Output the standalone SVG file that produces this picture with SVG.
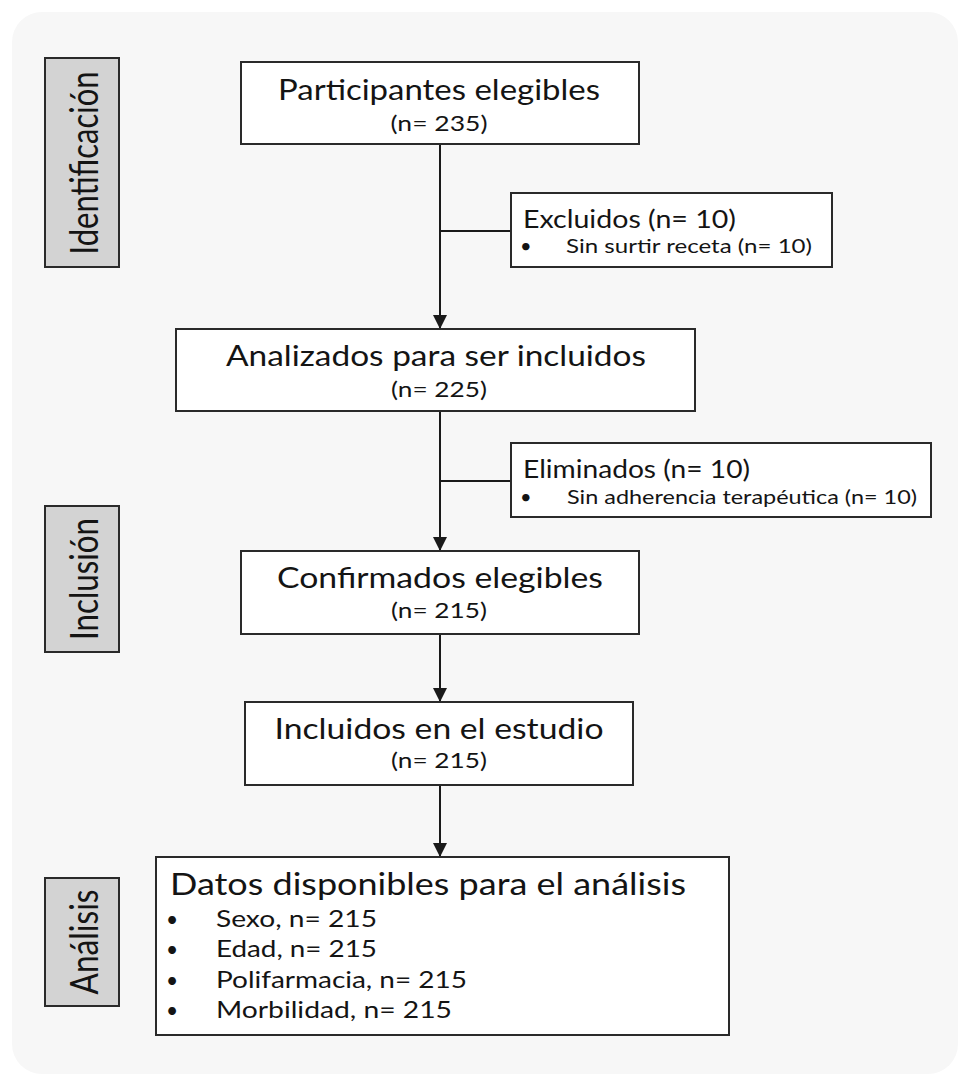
<svg xmlns="http://www.w3.org/2000/svg" width="962" height="1080" viewBox="0 0 962 1080">
<defs>
<marker id="arr" markerUnits="userSpaceOnUse" markerWidth="14" markerHeight="14" viewBox="0 0 14 14" refX="14" refY="7" orient="auto">
<path d="M0,0 L14,7 L0,14 Z" fill="#1a1a1a"/>
</marker>
<style>
.box{fill:#ffffff;stroke:#2a2a2a;stroke-width:2}
.side{fill:#d3d3d3;stroke:#2a2a2a;stroke-width:2}
.t{font-family:Lato,"Liberation Sans",sans-serif;fill:#141414}
.title{font-size:28px}
.n{font-size:21px}
.hd{font-size:25px}
.bl{font-size:20px}
.side-t{font-size:38px}
.conn{stroke:#1a1a1a;stroke-width:2;fill:none}
</style>
</defs>
<rect x="0" y="0" width="962" height="1080" fill="#ffffff"/>
<rect x="12" y="12" width="946" height="1062" rx="30" fill="#f7f7f7"/>

<g id="label-identificacion">
<rect class="side" x="45" y="58" width="74" height="209"/>
<text class="t side-t" transform="translate(98,163) rotate(-90)" text-anchor="middle" textLength="183" lengthAdjust="spacingAndGlyphs">Identificación</text>
</g>
<g id="label-inclusion">
<rect class="side" x="45" y="506" width="74" height="146"/>
<text class="t side-t" transform="translate(98,579) rotate(-90)" text-anchor="middle" textLength="122" lengthAdjust="spacingAndGlyphs">Inclusión</text>
</g>
<g id="label-analisis">
<rect class="side" x="45" y="878" width="74" height="128"/>
<text class="t side-t" transform="translate(98,942) rotate(-90)" text-anchor="middle" textLength="105" lengthAdjust="spacingAndGlyphs">Análisis</text>
</g>

<g id="connectors">
<line class="conn" x1="440" y1="144" x2="440" y2="329" marker-end="url(#arr)"/>
<line class="conn" x1="440" y1="231" x2="512" y2="231"/>
<line class="conn" x1="440" y1="411" x2="440" y2="551" marker-end="url(#arr)"/>
<line class="conn" x1="440" y1="481" x2="512" y2="481"/>
<line class="conn" x1="440" y1="634" x2="440" y2="702" marker-end="url(#arr)"/>
<line class="conn" x1="440" y1="785" x2="440" y2="857" marker-end="url(#arr)"/>
</g>

<g id="node-participantes">
<rect class="box" x="241" y="62" width="398" height="82"/>
<text class="t title" x="439" y="100" text-anchor="middle" textLength="322" lengthAdjust="spacingAndGlyphs">Participantes elegibles</text>
<text class="t n" x="439" y="131" text-anchor="middle" textLength="97" lengthAdjust="spacingAndGlyphs">(n= 235)</text>
</g>

<g id="node-excluidos">
<rect class="box" x="511" y="193" width="321" height="74"/>
<text class="t hd" x="523" y="228" textLength="213" lengthAdjust="spacingAndGlyphs">Excluidos (n= 10)</text>
<text class="t bl" x="520" y="253">•</text>
<text class="t bl" x="566" y="253" textLength="246" lengthAdjust="spacingAndGlyphs">Sin surtir receta (n= 10)</text>
</g>

<g id="node-analizados">
<rect class="box" x="176" y="329" width="519" height="82"/>
<text class="t title" x="436" y="366" text-anchor="middle" textLength="420" lengthAdjust="spacingAndGlyphs">Analizados para ser incluidos</text>
<text class="t n" x="439" y="397" text-anchor="middle" textLength="96" lengthAdjust="spacingAndGlyphs">(n= 225)</text>
</g>

<g id="node-eliminados">
<rect class="box" x="511" y="443" width="420" height="74"/>
<text class="t hd" x="523" y="478" textLength="227" lengthAdjust="spacingAndGlyphs">Eliminados (n= 10)</text>
<text class="t bl" x="520" y="504">•</text>
<text class="t bl" x="567" y="504" textLength="350" lengthAdjust="spacingAndGlyphs">Sin adherencia terapéutica (n= 10)</text>
</g>

<g id="node-confirmados">
<rect class="box" x="241" y="551" width="398" height="83"/>
<text class="t title" x="440" y="588" text-anchor="middle" textLength="326" lengthAdjust="spacingAndGlyphs">Confirmados elegibles</text>
<text class="t n" x="439" y="618" text-anchor="middle" textLength="96" lengthAdjust="spacingAndGlyphs">(n= 215)</text>
</g>

<g id="node-incluidos">
<rect class="box" x="245" y="702" width="388" height="83"/>
<text class="t title" x="439" y="739" text-anchor="middle" textLength="329" lengthAdjust="spacingAndGlyphs">Incluidos en el estudio</text>
<text class="t n" x="439" y="768" text-anchor="middle" textLength="96" lengthAdjust="spacingAndGlyphs">(n= 215)</text>
</g>

<g id="node-datos">
<rect class="box" x="156" y="857" width="573" height="178"/>
<text class="t title" x="170" y="895" textLength="516" lengthAdjust="spacingAndGlyphs" style="font-size:30px">Datos disponibles para el análisis</text>
<text class="t n" x="166" y="927" font-size="22">•</text>
<text class="t n" x="216" y="927" textLength="161" lengthAdjust="spacingAndGlyphs" style="font-size:23px">Sexo, n= 215</text>
<text class="t n" x="166" y="957" font-size="22">•</text>
<text class="t n" x="216" y="957" textLength="161" lengthAdjust="spacingAndGlyphs" style="font-size:23px">Edad, n= 215</text>
<text class="t n" x="166" y="988" font-size="22">•</text>
<text class="t n" x="216" y="988" textLength="251" lengthAdjust="spacingAndGlyphs" style="font-size:23px">Polifarmacia, n= 215</text>
<text class="t n" x="166" y="1018" font-size="22">•</text>
<text class="t n" x="216" y="1018" textLength="236" lengthAdjust="spacingAndGlyphs" style="font-size:23px">Morbilidad, n= 215</text>
</g>
</svg>
